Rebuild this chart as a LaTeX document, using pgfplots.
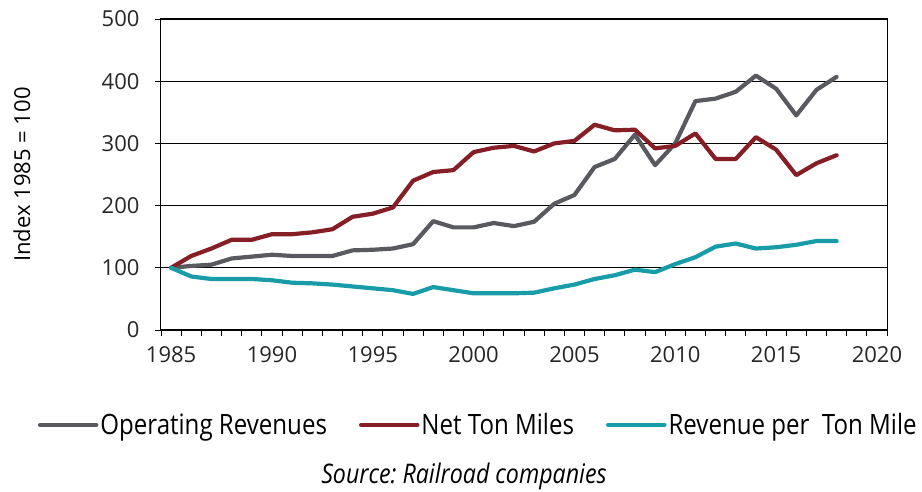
\documentclass[border=0pt]{standalone}
\usepackage{pgfplots}
\pgfplotsset{compat=1.18}
\usepackage{fontspec}
\setmainfont{Open Sans}
\newfontfamily\legfont[FakeStretch=0.86]{Open Sans}
\definecolor{cgray}{RGB}{89,90,95}
\definecolor{cred}{RGB}{133,31,37}
\definecolor{cteal}{RGB}{23,156,168}
\frenchspacing
\begin{document}
\begin{tikzpicture}
\path[use as bounding box] (-161pt,-162pt) rectangle (761pt,330pt);
\begin{axis}[
  at={(0pt,0pt)}, anchor=south west,
  scale only axis, width=726pt, height=311pt,
  xmin=1984.5, xmax=2020.5, ymin=0, ymax=500,
  xtick={1985,1990,...,2020},
  minor xtick={1984.5,1985.5,...,2020.5},
  ytick={0,100,...,500},
  xtick pos=bottom, ytick pos=left,
  tick align=outside,
  major x tick style={draw=none},
  major tick length=6pt, minor tick length=6pt,
  tick style={black, line width=0.9pt},
  minor tick style={black, line width=0.9pt},
  ymajorgrids, grid style={black, line width=0.9pt},
  axis line style={black, line width=1pt},
  /pgf/number format/1000 sep={},
  /pgf/number format/assume math mode=true,
  tick label style={font=\fontsize{22}{26}\selectfont, text=black!85},
  xticklabel style={yshift=-7pt},
  yticklabel style={xshift=-12pt},
  ylabel={Index 1985 = 100},
  ylabel style={at={(axis description cs:-0.1915,0.5)}, anchor=center, font=\fontsize{22}{26}\selectfont},
  legend columns=3,
  legend style={at={(axis description cs:0.437,-0.305)}, anchor=center, draw=none,
    font=\legfont\fontsize{28}{31}\selectfont,
    /tikz/every even column/.append style={column sep=30pt},
    nodes={inner sep=2pt}},
  legend image code/.code={\draw[#1, line width=4.5pt] (0pt,0pt) -- (56pt,0pt);},
  every axis plot/.append style={line width=4.2pt, line join=round, line cap=round, mark=none},
]
\addplot[cgray] coordinates {
(1985,100)(1986,103)(1987,105)(1988,115)(1989,118)(1990,121)(1991,119)(1992,119)(1993,119)(1994,128)
(1995,129)(1996,131)(1997,138)(1998,175)(1999,165)(2000,165)(2001,172)(2002,167)(2003,174)(2004,203)
(2005,217)(2006,262)(2007,275)(2008,314)(2009,265)(2010,300)(2011,368)(2012,372)(2013,383)(2014,409)
(2015,388)(2016,345)(2017,386)(2018,407)};
\addlegendentry{Operating Revenues}
\addplot[cred] coordinates {
(1985,100)(1986,119)(1987,131)(1988,145)(1989,145)(1990,154)(1991,154)(1992,157)(1993,162)(1994,182)
(1995,187)(1996,197)(1997,240)(1998,254)(1999,257)(2000,286)(2001,293)(2002,296)(2003,287)(2004,300)
(2005,304)(2006,330)(2007,321)(2008,322)(2009,292)(2010,296)(2011,316)(2012,275)(2013,275)(2014,310)
(2015,290)(2016,249)(2017,268)(2018,281)};
\addlegendentry{Net Ton Miles}
\addplot[cteal] coordinates {
(1985,100)(1986,86)(1987,82)(1988,82)(1989,82)(1990,80)(1991,76)(1992,75)(1993,73)(1994,70)
(1995,67)(1996,64)(1997,58)(1998,69)(1999,64)(2000,59)(2001,59)(2002,59)(2003,60)(2004,67)
(2005,73)(2006,82)(2007,88)(2008,97)(2009,93)(2010,106)(2011,117)(2012,134)(2013,139)(2014,131)
(2015,133)(2016,137)(2017,143)(2018,143)};
\addlegendentry{Revenue per\ \ Ton Mile}
\end{axis}
\node[font=\itshape\legfont\fontsize{27}{30}\selectfont] at (303pt,-146pt) {Source: Railroad companies};
\end{tikzpicture}
\end{document}
